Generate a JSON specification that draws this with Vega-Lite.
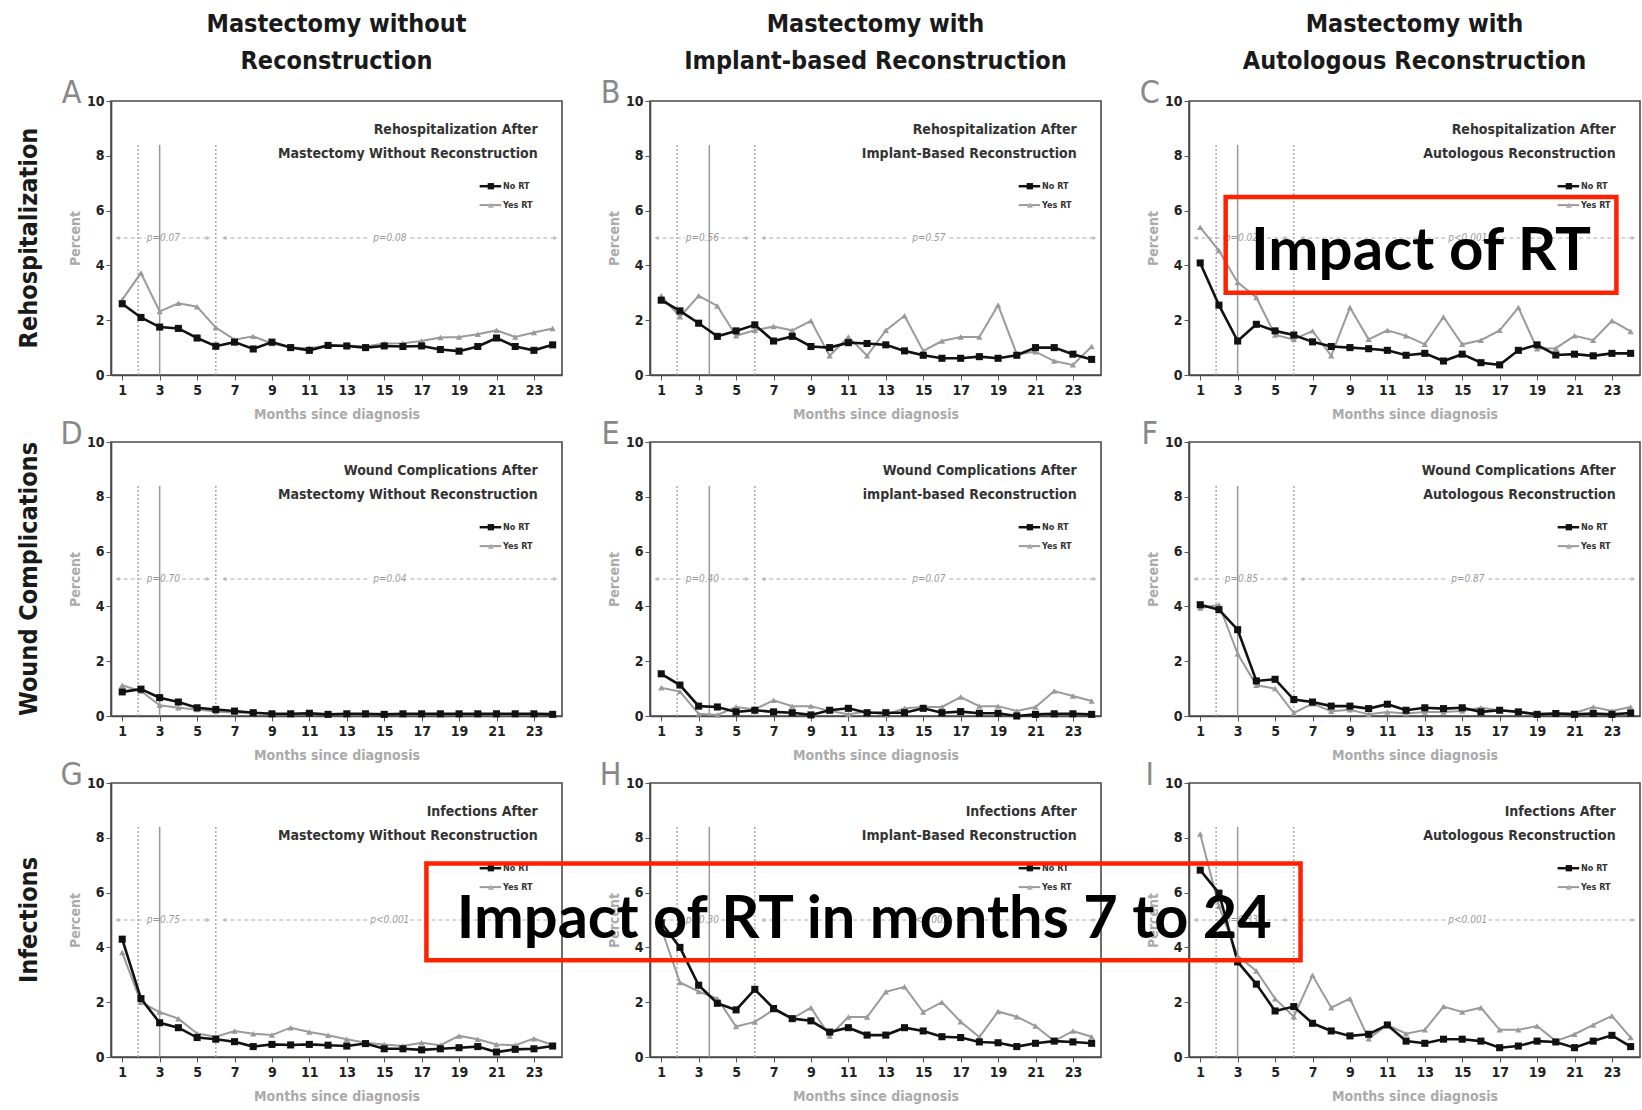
{
"$schema": "https://vega.github.io/schema/vega-lite/v6.json",
"background": "white",
"padding": {"left": 16, "top": 12, "right": 0, "bottom": 0},
"config": {
  "font": "DejaVu Sans Condensed, sans-serif",
  "view": {"stroke": "#4a4a4a", "strokeWidth": 1.6},
  "axis": {"labelFontWeight": "bold", "labelColor": "#222", "labelFontSize": 14, "titleFontWeight": "bold", "titleColor": "#aaa", "titleFontSize": 14, "domainColor": "#4a4a4a", "domainWidth": 1.6, "tickColor": "#555", "tickSize": 5, "grid": false, "labelOverlap": false, "labelBound": false},
  "axisY": {"tickCount": 10, "labelOverlap": false},
  "axisQuantitative": {"labelOverlap": false}
},
"data": {"values": [
{"r":"R","c":"w","m":1,"no":2.6,"yes":2.75},{"r":"R","c":"w","m":2,"no":2.1,"yes":3.72},{"r":"R","c":"w","m":3,"no":1.75,"yes":2.32},{"r":"R","c":"w","m":4,"no":1.7,"yes":2.62},{"r":"R","c":"w","m":5,"no":1.35,"yes":2.49},{"r":"R","c":"w","m":6,"no":1.05,"yes":1.73},{"r":"R","c":"w","m":7,"no":1.2,"yes":1.29},{"r":"R","c":"w","m":8,"no":0.95,"yes":1.41},{"r":"R","c":"w","m":9,"no":1.2,"yes":1.15},{"r":"R","c":"w","m":10,"no":1.0,"yes":1.0},{"r":"R","c":"w","m":11,"no":0.9,"yes":0.98},{"r":"R","c":"w","m":12,"no":1.08,"yes":1.08},{"r":"R","c":"w","m":13,"no":1.06,"yes":1.08},{"r":"R","c":"w","m":14,"no":1.0,"yes":1.04},{"r":"R","c":"w","m":15,"no":1.06,"yes":1.15},{"r":"R","c":"w","m":16,"no":1.04,"yes":1.16},{"r":"R","c":"w","m":17,"no":1.06,"yes":1.24},{"r":"R","c":"w","m":18,"no":0.93,"yes":1.37},{"r":"R","c":"w","m":19,"no":0.87,"yes":1.39},{"r":"R","c":"w","m":20,"no":1.04,"yes":1.49},{"r":"R","c":"w","m":21,"no":1.35,"yes":1.63},{"r":"R","c":"w","m":22,"no":1.04,"yes":1.39},{"r":"R","c":"w","m":23,"no":0.9,"yes":1.55},{"r":"R","c":"w","m":24,"no":1.1,"yes":1.7},
{"r":"R","c":"i","m":1,"no":2.73,"yes":2.89},{"r":"R","c":"i","m":2,"no":2.34,"yes":2.13},{"r":"R","c":"i","m":3,"no":1.89,"yes":2.89},{"r":"R","c":"i","m":4,"no":1.41,"yes":2.52},{"r":"R","c":"i","m":5,"no":1.61,"yes":1.43},{"r":"R","c":"i","m":6,"no":1.83,"yes":1.63},{"r":"R","c":"i","m":7,"no":1.24,"yes":1.77},{"r":"R","c":"i","m":8,"no":1.41,"yes":1.63},{"r":"R","c":"i","m":9,"no":1.04,"yes":1.98},{"r":"R","c":"i","m":10,"no":1.0,"yes":0.7},{"r":"R","c":"i","m":11,"no":1.18,"yes":1.39},{"r":"R","c":"i","m":12,"no":1.15,"yes":0.7},{"r":"R","c":"i","m":13,"no":1.1,"yes":1.63},{"r":"R","c":"i","m":14,"no":0.88,"yes":2.16},{"r":"R","c":"i","m":15,"no":0.72,"yes":0.88},{"r":"R","c":"i","m":16,"no":0.61,"yes":1.24},{"r":"R","c":"i","m":17,"no":0.61,"yes":1.39},{"r":"R","c":"i","m":18,"no":0.67,"yes":1.39},{"r":"R","c":"i","m":19,"no":0.61,"yes":2.55},{"r":"R","c":"i","m":20,"no":0.72,"yes":0.76},{"r":"R","c":"i","m":21,"no":1.0,"yes":0.85},{"r":"R","c":"i","m":22,"no":1.0,"yes":0.51},{"r":"R","c":"i","m":23,"no":0.76,"yes":0.37},{"r":"R","c":"i","m":24,"no":0.57,"yes":1.04},
{"r":"R","c":"a","m":1,"no":4.09,"yes":5.39},{"r":"R","c":"a","m":2,"no":2.55,"yes":4.54},{"r":"R","c":"a","m":3,"no":1.24,"yes":3.38},{"r":"R","c":"a","m":4,"no":1.85,"yes":2.83},{"r":"R","c":"a","m":5,"no":1.61,"yes":1.46},{"r":"R","c":"a","m":6,"no":1.46,"yes":1.3},{"r":"R","c":"a","m":7,"no":1.21,"yes":1.61},{"r":"R","c":"a","m":8,"no":1.04,"yes":0.7},{"r":"R","c":"a","m":9,"no":1.0,"yes":2.46},{"r":"R","c":"a","m":10,"no":0.96,"yes":1.3},{"r":"R","c":"a","m":11,"no":0.9,"yes":1.63},{"r":"R","c":"a","m":12,"no":0.72,"yes":1.43},{"r":"R","c":"a","m":13,"no":0.79,"yes":1.12},{"r":"R","c":"a","m":14,"no":0.51,"yes":2.12},{"r":"R","c":"a","m":15,"no":0.76,"yes":1.12},{"r":"R","c":"a","m":16,"no":0.45,"yes":1.27},{"r":"R","c":"a","m":17,"no":0.37,"yes":1.63},{"r":"R","c":"a","m":18,"no":0.9,"yes":2.46},{"r":"R","c":"a","m":19,"no":1.1,"yes":0.96},{"r":"R","c":"a","m":20,"no":0.73,"yes":0.98},{"r":"R","c":"a","m":21,"no":0.76,"yes":1.43},{"r":"R","c":"a","m":22,"no":0.7,"yes":1.27},{"r":"R","c":"a","m":23,"no":0.79,"yes":1.98},{"r":"R","c":"a","m":24,"no":0.79,"yes":1.59},
{"r":"W","c":"w","m":1,"no":0.88,"yes":1.12},{"r":"W","c":"w","m":2,"no":0.98,"yes":0.91},{"r":"W","c":"w","m":3,"no":0.67,"yes":0.39},{"r":"W","c":"w","m":4,"no":0.51,"yes":0.3},{"r":"W","c":"w","m":5,"no":0.3,"yes":0.24},{"r":"W","c":"w","m":6,"no":0.24,"yes":0.16},{"r":"W","c":"w","m":7,"no":0.18,"yes":0.12},{"r":"W","c":"w","m":8,"no":0.12,"yes":0.12},{"r":"W","c":"w","m":9,"no":0.08,"yes":0.08},{"r":"W","c":"w","m":10,"no":0.08,"yes":0.06},{"r":"W","c":"w","m":11,"no":0.1,"yes":0.08},{"r":"W","c":"w","m":12,"no":0.06,"yes":0.06},{"r":"W","c":"w","m":13,"no":0.08,"yes":0.06},{"r":"W","c":"w","m":14,"no":0.08,"yes":0.06},{"r":"W","c":"w","m":15,"no":0.06,"yes":0.08},{"r":"W","c":"w","m":16,"no":0.08,"yes":0.06},{"r":"W","c":"w","m":17,"no":0.08,"yes":0.06},{"r":"W","c":"w","m":18,"no":0.08,"yes":0.08},{"r":"W","c":"w","m":19,"no":0.08,"yes":0.06},{"r":"W","c":"w","m":20,"no":0.08,"yes":0.08},{"r":"W","c":"w","m":21,"no":0.08,"yes":0.06},{"r":"W","c":"w","m":22,"no":0.08,"yes":0.06},{"r":"W","c":"w","m":23,"no":0.08,"yes":0.08},{"r":"W","c":"w","m":24,"no":0.06,"yes":0.1},
{"r":"W","c":"i","m":1,"no":1.54,"yes":1.03},{"r":"W","c":"i","m":2,"no":1.13,"yes":0.89},{"r":"W","c":"i","m":3,"no":0.36,"yes":0.08},{"r":"W","c":"i","m":4,"no":0.33,"yes":0.04},{"r":"W","c":"i","m":5,"no":0.15,"yes":0.33},{"r":"W","c":"i","m":6,"no":0.21,"yes":0.24},{"r":"W","c":"i","m":7,"no":0.15,"yes":0.57},{"r":"W","c":"i","m":8,"no":0.12,"yes":0.36},{"r":"W","c":"i","m":9,"no":0.04,"yes":0.36},{"r":"W","c":"i","m":10,"no":0.21,"yes":0.18},{"r":"W","c":"i","m":11,"no":0.28,"yes":0.06},{"r":"W","c":"i","m":12,"no":0.12,"yes":0.16},{"r":"W","c":"i","m":13,"no":0.12,"yes":0.04},{"r":"W","c":"i","m":14,"no":0.12,"yes":0.28},{"r":"W","c":"i","m":15,"no":0.28,"yes":0.33},{"r":"W","c":"i","m":16,"no":0.12,"yes":0.33},{"r":"W","c":"i","m":17,"no":0.16,"yes":0.69},{"r":"W","c":"i","m":18,"no":0.1,"yes":0.36},{"r":"W","c":"i","m":19,"no":0.1,"yes":0.36},{"r":"W","c":"i","m":20,"no":0.0,"yes":0.18},{"r":"W","c":"i","m":21,"no":0.06,"yes":0.33},{"r":"W","c":"i","m":22,"no":0.08,"yes":0.91},{"r":"W","c":"i","m":23,"no":0.08,"yes":0.73},{"r":"W","c":"i","m":24,"no":0.06,"yes":0.55},
{"r":"W","c":"a","m":1,"no":4.06,"yes":3.94},{"r":"W","c":"a","m":2,"no":3.88,"yes":4.06},{"r":"W","c":"a","m":3,"no":3.15,"yes":2.27},{"r":"W","c":"a","m":4,"no":1.28,"yes":1.12},{"r":"W","c":"a","m":5,"no":1.34,"yes":1.0},{"r":"W","c":"a","m":6,"no":0.6,"yes":0.11},{"r":"W","c":"a","m":7,"no":0.51,"yes":0.45},{"r":"W","c":"a","m":8,"no":0.36,"yes":0.17},{"r":"W","c":"a","m":9,"no":0.36,"yes":0.23},{"r":"W","c":"a","m":10,"no":0.27,"yes":0.06},{"r":"W","c":"a","m":11,"no":0.43,"yes":0.15},{"r":"W","c":"a","m":12,"no":0.21,"yes":0.09},{"r":"W","c":"a","m":13,"no":0.3,"yes":0.15},{"r":"W","c":"a","m":14,"no":0.27,"yes":0.15},{"r":"W","c":"a","m":15,"no":0.3,"yes":0.18},{"r":"W","c":"a","m":16,"no":0.15,"yes":0.3},{"r":"W","c":"a","m":17,"no":0.21,"yes":0.21},{"r":"W","c":"a","m":18,"no":0.15,"yes":0.15},{"r":"W","c":"a","m":19,"no":0.06,"yes":0.09},{"r":"W","c":"a","m":20,"no":0.09,"yes":0.09},{"r":"W","c":"a","m":21,"no":0.06,"yes":0.11},{"r":"W","c":"a","m":22,"no":0.09,"yes":0.33},{"r":"W","c":"a","m":23,"no":0.06,"yes":0.18},{"r":"W","c":"a","m":24,"no":0.11,"yes":0.33},
{"r":"I","c":"w","m":1,"no":4.3,"yes":3.81},{"r":"I","c":"w","m":2,"no":2.13,"yes":2.0},{"r":"I","c":"w","m":3,"no":1.25,"yes":1.64},{"r":"I","c":"w","m":4,"no":1.07,"yes":1.4},{"r":"I","c":"w","m":5,"no":0.71,"yes":0.86},{"r":"I","c":"w","m":6,"no":0.65,"yes":0.74},{"r":"I","c":"w","m":7,"no":0.56,"yes":0.95},{"r":"I","c":"w","m":8,"no":0.38,"yes":0.85},{"r":"I","c":"w","m":9,"no":0.46,"yes":0.8},{"r":"I","c":"w","m":10,"no":0.44,"yes":1.07},{"r":"I","c":"w","m":11,"no":0.46,"yes":0.91},{"r":"I","c":"w","m":12,"no":0.43,"yes":0.79},{"r":"I","c":"w","m":13,"no":0.4,"yes":0.65},{"r":"I","c":"w","m":14,"no":0.49,"yes":0.52},{"r":"I","c":"w","m":15,"no":0.3,"yes":0.46},{"r":"I","c":"w","m":16,"no":0.3,"yes":0.4},{"r":"I","c":"w","m":17,"no":0.26,"yes":0.52},{"r":"I","c":"w","m":18,"no":0.3,"yes":0.43},{"r":"I","c":"w","m":19,"no":0.34,"yes":0.77},{"r":"I","c":"w","m":20,"no":0.38,"yes":0.65},{"r":"I","c":"w","m":21,"no":0.18,"yes":0.46},{"r":"I","c":"w","m":22,"no":0.28,"yes":0.43},{"r":"I","c":"w","m":23,"no":0.3,"yes":0.67},{"r":"I","c":"w","m":24,"no":0.4,"yes":0.44},
{"r":"I","c":"i","m":1,"no":4.9,"yes":4.7},{"r":"I","c":"i","m":2,"no":4.0,"yes":2.72},{"r":"I","c":"i","m":3,"no":2.62,"yes":2.39},{"r":"I","c":"i","m":4,"no":1.96,"yes":2.13},{"r":"I","c":"i","m":5,"no":1.72,"yes":1.11},{"r":"I","c":"i","m":6,"no":2.47,"yes":1.28},{"r":"I","c":"i","m":7,"no":1.77,"yes":1.72},{"r":"I","c":"i","m":8,"no":1.4,"yes":1.4},{"r":"I","c":"i","m":9,"no":1.32,"yes":1.8},{"r":"I","c":"i","m":10,"no":0.91,"yes":0.77},{"r":"I","c":"i","m":11,"no":1.07,"yes":1.46},{"r":"I","c":"i","m":12,"no":0.8,"yes":1.46},{"r":"I","c":"i","m":13,"no":0.8,"yes":2.38},{"r":"I","c":"i","m":14,"no":1.07,"yes":2.56},{"r":"I","c":"i","m":15,"no":0.95,"yes":1.64},{"r":"I","c":"i","m":16,"no":0.74,"yes":2.0},{"r":"I","c":"i","m":17,"no":0.71,"yes":1.29},{"r":"I","c":"i","m":18,"no":0.55,"yes":0.73},{"r":"I","c":"i","m":19,"no":0.52,"yes":1.66},{"r":"I","c":"i","m":20,"no":0.38,"yes":1.47},{"r":"I","c":"i","m":21,"no":0.5,"yes":1.13},{"r":"I","c":"i","m":22,"no":0.58,"yes":0.58},{"r":"I","c":"i","m":23,"no":0.55,"yes":0.95},{"r":"I","c":"i","m":24,"no":0.5,"yes":0.74},
{"r":"I","c":"a","m":1,"no":6.82,"yes":8.14},{"r":"I","c":"a","m":2,"no":5.98,"yes":5.5},{"r":"I","c":"a","m":3,"no":3.47,"yes":3.69},{"r":"I","c":"a","m":4,"no":2.66,"yes":3.14},{"r":"I","c":"a","m":5,"no":1.68,"yes":2.13},{"r":"I","c":"a","m":6,"no":1.84,"yes":1.47},{"r":"I","c":"a","m":7,"no":1.23,"yes":2.98},{"r":"I","c":"a","m":8,"no":0.95,"yes":1.8},{"r":"I","c":"a","m":9,"no":0.77,"yes":2.13},{"r":"I","c":"a","m":10,"no":0.83,"yes":0.67},{"r":"I","c":"a","m":11,"no":1.17,"yes":1.17},{"r":"I","c":"a","m":12,"no":0.58,"yes":0.85},{"r":"I","c":"a","m":13,"no":0.5,"yes":0.99},{"r":"I","c":"a","m":14,"no":0.65,"yes":1.84},{"r":"I","c":"a","m":15,"no":0.65,"yes":1.64},{"r":"I","c":"a","m":16,"no":0.58,"yes":1.8},{"r":"I","c":"a","m":17,"no":0.34,"yes":0.99},{"r":"I","c":"a","m":18,"no":0.4,"yes":0.99},{"r":"I","c":"a","m":19,"no":0.58,"yes":1.13},{"r":"I","c":"a","m":20,"no":0.55,"yes":0.58},{"r":"I","c":"a","m":21,"no":0.34,"yes":0.83},{"r":"I","c":"a","m":22,"no":0.58,"yes":1.17},{"r":"I","c":"a","m":23,"no":0.79,"yes":1.5},{"r":"I","c":"a","m":24,"no":0.38,"yes":0.71},
{"r":"R","c":"w","k":"a","t1":"Rehospitalization After","t2":"Mastectomy Without Reconstruction","p1":"p=0.07","p2":"p=0.08","L":"A"},
{"r":"R","c":"i","k":"a","t1":"Rehospitalization After","t2":"Implant-Based Reconstruction","p1":"p=0.56","p2":"p=0.57","L":"B"},
{"r":"R","c":"a","k":"a","t1":"Rehospitalization After","t2":"Autologous Reconstruction","p1":"p=0.02","p2":"p<0.001","L":"C"},
{"r":"W","c":"w","k":"a","t1":"Wound Complications After","t2":"Mastectomy Without Reconstruction","p1":"p=0.70","p2":"p=0.04","L":"D"},
{"r":"W","c":"i","k":"a","t1":"Wound Complications After","t2":"implant-based Reconstruction","p1":"p=0.40","p2":"p=0.07","L":"E"},
{"r":"W","c":"a","k":"a","t1":"Wound Complications After","t2":"Autologous Reconstruction","p1":"p=0.85","p2":"p=0.87","L":"F"},
{"r":"I","c":"w","k":"a","t1":"Infections After","t2":"Mastectomy Without Reconstruction","p1":"p=0.75","p2":"p<0.001","L":"G"},
{"r":"I","c":"i","k":"a","t1":"Infections After","t2":"Implant-Based Reconstruction","p1":"p=0.30","p2":"p<0.001","L":"H"},
{"r":"I","c":"a","k":"a","t1":"Infections After","t2":"Autologous Reconstruction","p1":"p=0.33","p2":"p<0.001","L":"I"},
{"r":"R","c":"a","k":"b1","t":"Impact of RT"},
{"r":"I","c":"a","k":"b2","t":"Impact of RT in months 7 to 24"}
]},
"facet": {
  "row": {"field": "r", "type": "nominal", "sort": ["R","W","I"], "header": {"title": null, "labelExpr": "datum.value == 'R' ? 'Rehospitalization' : datum.value == 'W' ? 'Wound Complications' : 'Infections'", "labelFontSize": 25, "labelFontWeight": "bold", "labelColor": "#1a1a1a", "labelPadding": 69}},
  "column": {"field": "c", "type": "nominal", "sort": ["w","i","a"], "header": {"title": null, "labelExpr": "datum.value == 'w' ? ['Mastectomy without','Reconstruction'] : datum.value == 'i' ? ['Mastectomy with','Implant-based Reconstruction'] : ['Mastectomy with','Autologous Reconstruction']", "labelFontSize": 25, "labelLineHeight": 37, "labelFontWeight": "bold", "labelColor": "#1a1a1a", "labelPadding": 27}}
},
"spacing": {"row": 67, "column": 88},
"bounds": "flush",
"resolve": {"axis": {"x": "independent", "y": "independent"}},
"spec": {
  "width": 451,
  "height": 274,
  "layer": [
    {"transform": [{"filter": "isValid(datum.m)"}, {"fold": ["yes", "no"], "as": ["s", "v"]}],
     "mark": {"type": "line", "opacity": 0},
     "encoding": {
       "x": {"field": "m", "type": "quantitative", "scale": {"domain": [0.4, 24.5], "nice": false, "zero": false},
             "axis": {"values": [1,2,3,4,5,6,7,8,9,10,11,12,13,14,15,16,17,18,19,20,21,22,23,24], "labelExpr": "datum.value % 2 == 1 ? datum.label : ''", "title": "Months since diagnosis", "labelPadding": 3, "titlePadding": 10, "labelFlush": false, "labelOverlap": false}},
       "y": {"field": "v", "type": "quantitative", "scale": {"domain": [0, 10], "nice": false, "zero": false},
             "axis": {"values": [0,1,2,3,4,5,6,7,8,9,10], "tickCount": 10, "title": "Percent", "titlePadding": 4, "labelPadding": 2, "labelOverlap": false, "labelFlush": false, "labelFontSize": 14}},
       "detail": {"field": "s"}
     }},
    {"transform": [{"filter": "datum.k == 'a'"}], "mark": {"type": "rule", "color": "#aaa", "strokeWidth": 1.5, "strokeDash": [2, 2]},
     "encoding": {"x": {"datum": 1.85, "type": "quantitative", "scale": {"domain": [0.4, 24.5], "nice": false, "zero": false}}, "y": {"datum": 0, "type": "quantitative", "scale": {"domain": [0, 10], "nice": false, "zero": false}, "axis": {"values": [0,1,2,3,4,5,6,7,8,9,10], "tickCount": 10, "title": "Percent", "titlePadding": 4, "labelPadding": 2, "labelOverlap": false, "labelFlush": false, "labelFontSize": 14}}, "y2": {"datum": 8.4}}},
    {"transform": [{"filter": "datum.k == 'a'"}], "mark": {"type": "rule", "color": "#aaa", "strokeWidth": 1.5, "strokeDash": [2, 2]},
     "encoding": {"x": {"datum": 6, "type": "quantitative", "scale": {"domain": [0.4, 24.5], "nice": false, "zero": false}}, "y": {"datum": 0, "type": "quantitative", "scale": {"domain": [0, 10], "nice": false, "zero": false}, "axis": {"values": [0,1,2,3,4,5,6,7,8,9,10], "tickCount": 10, "title": "Percent", "titlePadding": 4, "labelPadding": 2, "labelOverlap": false, "labelFlush": false, "labelFontSize": 14}}, "y2": {"datum": 8.4}}},
    {"transform": [{"filter": "datum.k == 'a' && datum.c != 'i'"}], "mark": {"type": "rule", "color": "#999", "strokeWidth": 1.5},
     "encoding": {"x": {"datum": 3, "type": "quantitative", "scale": {"domain": [0.4, 24.5], "nice": false, "zero": false}}, "y": {"datum": 0, "type": "quantitative", "scale": {"domain": [0, 10], "nice": false, "zero": false}, "axis": {"values": [0,1,2,3,4,5,6,7,8,9,10], "tickCount": 10, "title": "Percent", "titlePadding": 4, "labelPadding": 2, "labelOverlap": false, "labelFlush": false, "labelFontSize": 14}}, "y2": {"datum": 8.4}}},
    {"transform": [{"filter": "datum.k == 'a' && datum.c == 'i'"}], "mark": {"type": "rule", "color": "#999", "strokeWidth": 1.5},
     "encoding": {"x": {"datum": 3.57, "type": "quantitative", "scale": {"domain": [0.4, 24.5], "nice": false, "zero": false}}, "y": {"datum": 0, "type": "quantitative", "scale": {"domain": [0, 10], "nice": false, "zero": false}, "axis": {"values": [0,1,2,3,4,5,6,7,8,9,10], "tickCount": 10, "title": "Percent", "titlePadding": 4, "labelPadding": 2, "labelOverlap": false, "labelFlush": false, "labelFontSize": 14}}, "y2": {"datum": 8.4}}},
    {"transform": [{"filter": "datum.k == 'a'"}], "mark": {"type": "rule", "color": "#aaa", "strokeWidth": 1, "strokeDash": [4, 3]},
     "encoding": {"x": {"datum": 0.7, "type": "quantitative", "scale": {"domain": [0.4, 24.5], "nice": false, "zero": false}}, "x2": {"datum": 2.25}, "y": {"datum": 5, "type": "quantitative", "scale": {"domain": [0, 10], "nice": false, "zero": false}, "axis": {"values": [0,1,2,3,4,5,6,7,8,9,10], "tickCount": 10, "title": "Percent", "titlePadding": 4, "labelPadding": 2, "labelOverlap": false, "labelFlush": false, "labelFontSize": 14}}}},
    {"transform": [{"filter": "datum.k == 'a'"}], "mark": {"type": "rule", "color": "#aaa", "strokeWidth": 1, "strokeDash": [4, 3]},
     "encoding": {"x": {"datum": 4.2, "type": "quantitative", "scale": {"domain": [0.4, 24.5], "nice": false, "zero": false}}, "x2": {"datum": 5.65}, "y": {"datum": 5, "type": "quantitative", "scale": {"domain": [0, 10], "nice": false, "zero": false}, "axis": {"values": [0,1,2,3,4,5,6,7,8,9,10], "tickCount": 10, "title": "Percent", "titlePadding": 4, "labelPadding": 2, "labelOverlap": false, "labelFlush": false, "labelFontSize": 14}}}},
    {"transform": [{"filter": "datum.k == 'a'"}], "mark": {"type": "rule", "color": "#aaa", "strokeWidth": 1, "strokeDash": [4, 3]},
     "encoding": {"x": {"datum": 6.4, "type": "quantitative", "scale": {"domain": [0.4, 24.5], "nice": false, "zero": false}}, "x2": {"datum": 14.2}, "y": {"datum": 5, "type": "quantitative", "scale": {"domain": [0, 10], "nice": false, "zero": false}, "axis": {"values": [0,1,2,3,4,5,6,7,8,9,10], "tickCount": 10, "title": "Percent", "titlePadding": 4, "labelPadding": 2, "labelOverlap": false, "labelFlush": false, "labelFontSize": 14}}}},
    {"transform": [{"filter": "datum.k == 'a'"}], "mark": {"type": "rule", "color": "#aaa", "strokeWidth": 1, "strokeDash": [4, 3]},
     "encoding": {"x": {"datum": 16.4, "type": "quantitative", "scale": {"domain": [0.4, 24.5], "nice": false, "zero": false}}, "x2": {"datum": 24.2}, "y": {"datum": 5, "type": "quantitative", "scale": {"domain": [0, 10], "nice": false, "zero": false}, "axis": {"values": [0,1,2,3,4,5,6,7,8,9,10], "tickCount": 10, "title": "Percent", "titlePadding": 4, "labelPadding": 2, "labelOverlap": false, "labelFlush": false, "labelFontSize": 14}}}},
    {"transform": [{"filter": "datum.k == 'a'"}], "mark": {"type": "point", "shape": "triangle-left", "filled": true, "color": "#aaa", "size": 22},
     "encoding": {"x": {"datum": 0.75, "type": "quantitative", "scale": {"domain": [0.4, 24.5], "nice": false, "zero": false}}, "y": {"datum": 5, "type": "quantitative", "scale": {"domain": [0, 10], "nice": false, "zero": false}, "axis": {"values": [0,1,2,3,4,5,6,7,8,9,10], "tickCount": 10, "title": "Percent", "titlePadding": 4, "labelPadding": 2, "labelOverlap": false, "labelFlush": false, "labelFontSize": 14}}}},
    {"transform": [{"filter": "datum.k == 'a'"}], "mark": {"type": "point", "shape": "triangle-right", "filled": true, "color": "#aaa", "size": 22},
     "encoding": {"x": {"datum": 5.6, "type": "quantitative", "scale": {"domain": [0.4, 24.5], "nice": false, "zero": false}}, "y": {"datum": 5, "type": "quantitative", "scale": {"domain": [0, 10], "nice": false, "zero": false}, "axis": {"values": [0,1,2,3,4,5,6,7,8,9,10], "tickCount": 10, "title": "Percent", "titlePadding": 4, "labelPadding": 2, "labelOverlap": false, "labelFlush": false, "labelFontSize": 14}}}},
    {"transform": [{"filter": "datum.k == 'a'"}], "mark": {"type": "point", "shape": "triangle-left", "filled": true, "color": "#aaa", "size": 22},
     "encoding": {"x": {"datum": 6.45, "type": "quantitative", "scale": {"domain": [0.4, 24.5], "nice": false, "zero": false}}, "y": {"datum": 5, "type": "quantitative", "scale": {"domain": [0, 10], "nice": false, "zero": false}, "axis": {"values": [0,1,2,3,4,5,6,7,8,9,10], "tickCount": 10, "title": "Percent", "titlePadding": 4, "labelPadding": 2, "labelOverlap": false, "labelFlush": false, "labelFontSize": 14}}}},
    {"transform": [{"filter": "datum.k == 'a'"}], "mark": {"type": "point", "shape": "triangle-right", "filled": true, "color": "#aaa", "size": 22},
     "encoding": {"x": {"datum": 24.15, "type": "quantitative", "scale": {"domain": [0.4, 24.5], "nice": false, "zero": false}}, "y": {"datum": 5, "type": "quantitative", "scale": {"domain": [0, 10], "nice": false, "zero": false}, "axis": {"values": [0,1,2,3,4,5,6,7,8,9,10], "tickCount": 10, "title": "Percent", "titlePadding": 4, "labelPadding": 2, "labelOverlap": false, "labelFlush": false, "labelFontSize": 14}}}},
    {"transform": [{"filter": "datum.k == 'a'"}], "mark": {"type": "text", "fontStyle": "italic", "fontSize": 10, "color": "#999", "align": "center", "baseline": "middle"},
     "encoding": {"text": {"field": "p1"}, "x": {"datum": 3.2, "type": "quantitative", "scale": {"domain": [0.4, 24.5], "nice": false, "zero": false}}, "y": {"datum": 5, "type": "quantitative", "scale": {"domain": [0, 10], "nice": false, "zero": false}, "axis": {"values": [0,1,2,3,4,5,6,7,8,9,10], "tickCount": 10, "title": "Percent", "titlePadding": 4, "labelPadding": 2, "labelOverlap": false, "labelFlush": false, "labelFontSize": 14}}}},
    {"transform": [{"filter": "datum.k == 'a'"}], "mark": {"type": "text", "fontStyle": "italic", "fontSize": 10, "color": "#999", "align": "center", "baseline": "middle"},
     "encoding": {"text": {"field": "p2"}, "x": {"datum": 15.3, "type": "quantitative", "scale": {"domain": [0.4, 24.5], "nice": false, "zero": false}}, "y": {"datum": 5, "type": "quantitative", "scale": {"domain": [0, 10], "nice": false, "zero": false}, "axis": {"values": [0,1,2,3,4,5,6,7,8,9,10], "tickCount": 10, "title": "Percent", "titlePadding": 4, "labelPadding": 2, "labelOverlap": false, "labelFlush": false, "labelFontSize": 14}}}},
    {"transform": [{"filter": "datum.k == 'a'"}], "mark": {"type": "text", "fontWeight": "bold", "fontSize": 14, "color": "#333", "align": "right", "baseline": "middle"},
     "encoding": {"text": {"field": "t1"}, "x": {"datum": 23.2, "type": "quantitative", "scale": {"domain": [0.4, 24.5], "nice": false, "zero": false}}, "y": {"datum": 8.93, "type": "quantitative", "scale": {"domain": [0, 10], "nice": false, "zero": false}, "axis": {"values": [0,1,2,3,4,5,6,7,8,9,10], "tickCount": 10, "title": "Percent", "titlePadding": 4, "labelPadding": 2, "labelOverlap": false, "labelFlush": false, "labelFontSize": 14}}}},
    {"transform": [{"filter": "datum.k == 'a'"}], "mark": {"type": "text", "fontWeight": "bold", "fontSize": 14, "color": "#333", "align": "right", "baseline": "middle"},
     "encoding": {"text": {"field": "t2"}, "x": {"datum": 23.2, "type": "quantitative", "scale": {"domain": [0.4, 24.5], "nice": false, "zero": false}}, "y": {"datum": 8.05, "type": "quantitative", "scale": {"domain": [0, 10], "nice": false, "zero": false}, "axis": {"values": [0,1,2,3,4,5,6,7,8,9,10], "tickCount": 10, "title": "Percent", "titlePadding": 4, "labelPadding": 2, "labelOverlap": false, "labelFlush": false, "labelFontSize": 14}}}},
    {"transform": [{"filter": "datum.k == 'a'"}], "mark": {"type": "text", "fontSize": 32, "color": "#888", "align": "center", "baseline": "middle"},
     "encoding": {"text": {"field": "L"}, "x": {"datum": -1.7, "type": "quantitative", "scale": {"domain": [0.4, 24.5], "nice": false, "zero": false}}, "y": {"datum": 10.3, "type": "quantitative", "scale": {"domain": [0, 10], "nice": false, "zero": false}, "axis": {"values": [0,1,2,3,4,5,6,7,8,9,10], "tickCount": 10, "title": "Percent", "titlePadding": 4, "labelPadding": 2, "labelOverlap": false, "labelFlush": false, "labelFontSize": 14}}}},
    {"transform": [{"filter": "datum.k == 'a'"}], "mark": {"type": "rule", "color": "#111", "strokeWidth": 2.5},
     "encoding": {"x": {"datum": 20.1, "type": "quantitative", "scale": {"domain": [0.4, 24.5], "nice": false, "zero": false}}, "x2": {"datum": 21.25}, "y": {"datum": 6.89, "type": "quantitative", "scale": {"domain": [0, 10], "nice": false, "zero": false}, "axis": {"values": [0,1,2,3,4,5,6,7,8,9,10], "tickCount": 10, "title": "Percent", "titlePadding": 4, "labelPadding": 2, "labelOverlap": false, "labelFlush": false, "labelFontSize": 14}}}},
    {"transform": [{"filter": "datum.k == 'a'"}], "mark": {"type": "point", "shape": "square", "filled": true, "color": "#111", "size": 40, "opacity": 1},
     "encoding": {"x": {"datum": 20.7, "type": "quantitative", "scale": {"domain": [0.4, 24.5], "nice": false, "zero": false}}, "y": {"datum": 6.89, "type": "quantitative", "scale": {"domain": [0, 10], "nice": false, "zero": false}, "axis": {"values": [0,1,2,3,4,5,6,7,8,9,10], "tickCount": 10, "title": "Percent", "titlePadding": 4, "labelPadding": 2, "labelOverlap": false, "labelFlush": false, "labelFontSize": 14}}}},
    {"transform": [{"filter": "datum.k == 'a'"}], "mark": {"type": "text", "text": "No RT", "fontWeight": "bold", "fontSize": 9, "color": "#333", "align": "left", "baseline": "middle"},
     "encoding": {"x": {"datum": 21.35, "type": "quantitative", "scale": {"domain": [0.4, 24.5], "nice": false, "zero": false}}, "y": {"datum": 6.89, "type": "quantitative", "scale": {"domain": [0, 10], "nice": false, "zero": false}, "axis": {"values": [0,1,2,3,4,5,6,7,8,9,10], "tickCount": 10, "title": "Percent", "titlePadding": 4, "labelPadding": 2, "labelOverlap": false, "labelFlush": false, "labelFontSize": 14}}}},
    {"transform": [{"filter": "datum.k == 'a'"}], "mark": {"type": "rule", "color": "#999", "strokeWidth": 2},
     "encoding": {"x": {"datum": 20.1, "type": "quantitative", "scale": {"domain": [0.4, 24.5], "nice": false, "zero": false}}, "x2": {"datum": 21.25}, "y": {"datum": 6.2, "type": "quantitative", "scale": {"domain": [0, 10], "nice": false, "zero": false}, "axis": {"values": [0,1,2,3,4,5,6,7,8,9,10], "tickCount": 10, "title": "Percent", "titlePadding": 4, "labelPadding": 2, "labelOverlap": false, "labelFlush": false, "labelFontSize": 14}}}},
    {"transform": [{"filter": "datum.k == 'a'"}], "mark": {"type": "point", "shape": "triangle-up", "filled": true, "color": "#aaa", "size": 35, "opacity": 1},
     "encoding": {"x": {"datum": 20.7, "type": "quantitative", "scale": {"domain": [0.4, 24.5], "nice": false, "zero": false}}, "y": {"datum": 6.2, "type": "quantitative", "scale": {"domain": [0, 10], "nice": false, "zero": false}, "axis": {"values": [0,1,2,3,4,5,6,7,8,9,10], "tickCount": 10, "title": "Percent", "titlePadding": 4, "labelPadding": 2, "labelOverlap": false, "labelFlush": false, "labelFontSize": 14}}}},
    {"transform": [{"filter": "datum.k == 'a'"}], "mark": {"type": "text", "text": "Yes RT", "fontWeight": "bold", "fontSize": 9, "color": "#333", "align": "left", "baseline": "middle"},
     "encoding": {"x": {"datum": 21.35, "type": "quantitative", "scale": {"domain": [0.4, 24.5], "nice": false, "zero": false}}, "y": {"datum": 6.2, "type": "quantitative", "scale": {"domain": [0, 10], "nice": false, "zero": false}, "axis": {"values": [0,1,2,3,4,5,6,7,8,9,10], "tickCount": 10, "title": "Percent", "titlePadding": 4, "labelPadding": 2, "labelOverlap": false, "labelFlush": false, "labelFontSize": 14}}}},
    {"transform": [{"filter": "isValid(datum.m)"}, {"fold": ["yes", "no"], "as": ["s", "v"]}],
     "mark": {"type": "line"},
     "encoding": {
       "x": {"field": "m", "type": "quantitative", "scale": {"domain": [0.4, 24.5], "nice": false, "zero": false}},
       "y": {"field": "v", "type": "quantitative", "scale": {"domain": [0, 10], "nice": false, "zero": false}, "axis": {"values": [0,1,2,3,4,5,6,7,8,9,10], "tickCount": 10, "title": "Percent", "titlePadding": 4, "labelPadding": 2, "labelOverlap": false, "labelFlush": false, "labelFontSize": 14}},
       "color": {"field": "s", "type": "nominal", "scale": {"domain": ["yes", "no"], "range": ["#9a9a9a", "#111111"]}, "legend": null},
       "strokeWidth": {"field": "s", "type": "nominal", "scale": {"domain": ["yes", "no"], "range": [2, 2.6]}, "legend": null}
     }},
    {"transform": [{"filter": "isValid(datum.m)"}, {"fold": ["yes", "no"], "as": ["s", "v"]}],
     "mark": {"type": "point", "filled": true, "opacity": 1},
     "encoding": {
       "x": {"field": "m", "type": "quantitative", "scale": {"domain": [0.4, 24.5], "nice": false, "zero": false}},
       "y": {"field": "v", "type": "quantitative", "scale": {"domain": [0, 10], "nice": false, "zero": false}, "axis": {"values": [0,1,2,3,4,5,6,7,8,9,10], "tickCount": 10, "title": "Percent", "titlePadding": 4, "labelPadding": 2, "labelOverlap": false, "labelFlush": false, "labelFontSize": 14}},
       "color": {"field": "s", "type": "nominal", "scale": {"domain": ["yes", "no"], "range": ["#9a9a9a", "#111111"]}, "legend": null},
       "shape": {"field": "s", "type": "nominal", "scale": {"domain": ["yes", "no"], "range": ["triangle-up", "square"]}, "legend": null},
       "size": {"field": "s", "type": "nominal", "scale": {"domain": ["yes", "no"], "range": [40, 50]}, "legend": null}
     }},
    {"transform": [{"filter": "datum.k == 'b1'"}], "mark": {"type": "rect", "fill": null, "fillOpacity": 0, "stroke": "#ff2200", "strokeWidth": 4.5},
     "encoding": {"x": {"datum": 2.36, "type": "quantitative", "scale": {"domain": [0.4, 24.5], "nice": false, "zero": false}}, "x2": {"datum": 23.24}, "y": {"datum": 6.5, "type": "quantitative", "scale": {"domain": [0, 10], "nice": false, "zero": false}, "axis": {"values": [0,1,2,3,4,5,6,7,8,9,10], "tickCount": 10, "title": "Percent", "titlePadding": 4, "labelPadding": 2, "labelOverlap": false, "labelFlush": false, "labelFontSize": 14}}, "y2": {"datum": 3.0}}},
    {"transform": [{"filter": "datum.k == 'b1'"}], "mark": {"type": "text", "font": "Lato", "fontWeight": "bold", "fontSize": 60, "color": "#000", "align": "center", "baseline": "alphabetic"},
     "encoding": {"text": {"field": "t"}, "x": {"datum": 12.8, "type": "quantitative", "scale": {"domain": [0.4, 24.5], "nice": false, "zero": false}}, "y": {"datum": 3.83, "type": "quantitative", "scale": {"domain": [0, 10], "nice": false, "zero": false}, "axis": {"values": [0,1,2,3,4,5,6,7,8,9,10], "tickCount": 10, "title": "Percent", "titlePadding": 4, "labelPadding": 2, "labelOverlap": false, "labelFlush": false, "labelFontSize": 14}}}},
    {"transform": [{"filter": "datum.k == 'b2'"}], "mark": {"type": "rect", "fill": null, "fillOpacity": 0, "stroke": "#ff2200", "strokeWidth": 4.5},
     "encoding": {"x": {"datum": -40.35, "type": "quantitative", "scale": {"domain": [0.4, 24.5], "nice": false, "zero": false}}, "x2": {"datum": 6.36}, "y": {"datum": 7.06, "type": "quantitative", "scale": {"domain": [0, 10], "nice": false, "zero": false}, "axis": {"values": [0,1,2,3,4,5,6,7,8,9,10], "tickCount": 10, "title": "Percent", "titlePadding": 4, "labelPadding": 2, "labelOverlap": false, "labelFlush": false, "labelFontSize": 14}}, "y2": {"datum": 3.53}}},
    {"transform": [{"filter": "datum.k == 'b2'"}], "mark": {"type": "text", "font": "Lato", "fontWeight": "bold", "fontSize": 59.5, "color": "#000", "align": "center", "baseline": "alphabetic"},
     "encoding": {"text": {"field": "t"}, "x": {"datum": -16.95, "type": "quantitative", "scale": {"domain": [0.4, 24.5], "nice": false, "zero": false}}, "y": {"datum": 4.35, "type": "quantitative", "scale": {"domain": [0, 10], "nice": false, "zero": false}, "axis": {"values": [0,1,2,3,4,5,6,7,8,9,10], "tickCount": 10, "title": "Percent", "titlePadding": 4, "labelPadding": 2, "labelOverlap": false, "labelFlush": false, "labelFontSize": 14}}}}
  ]
}
}
